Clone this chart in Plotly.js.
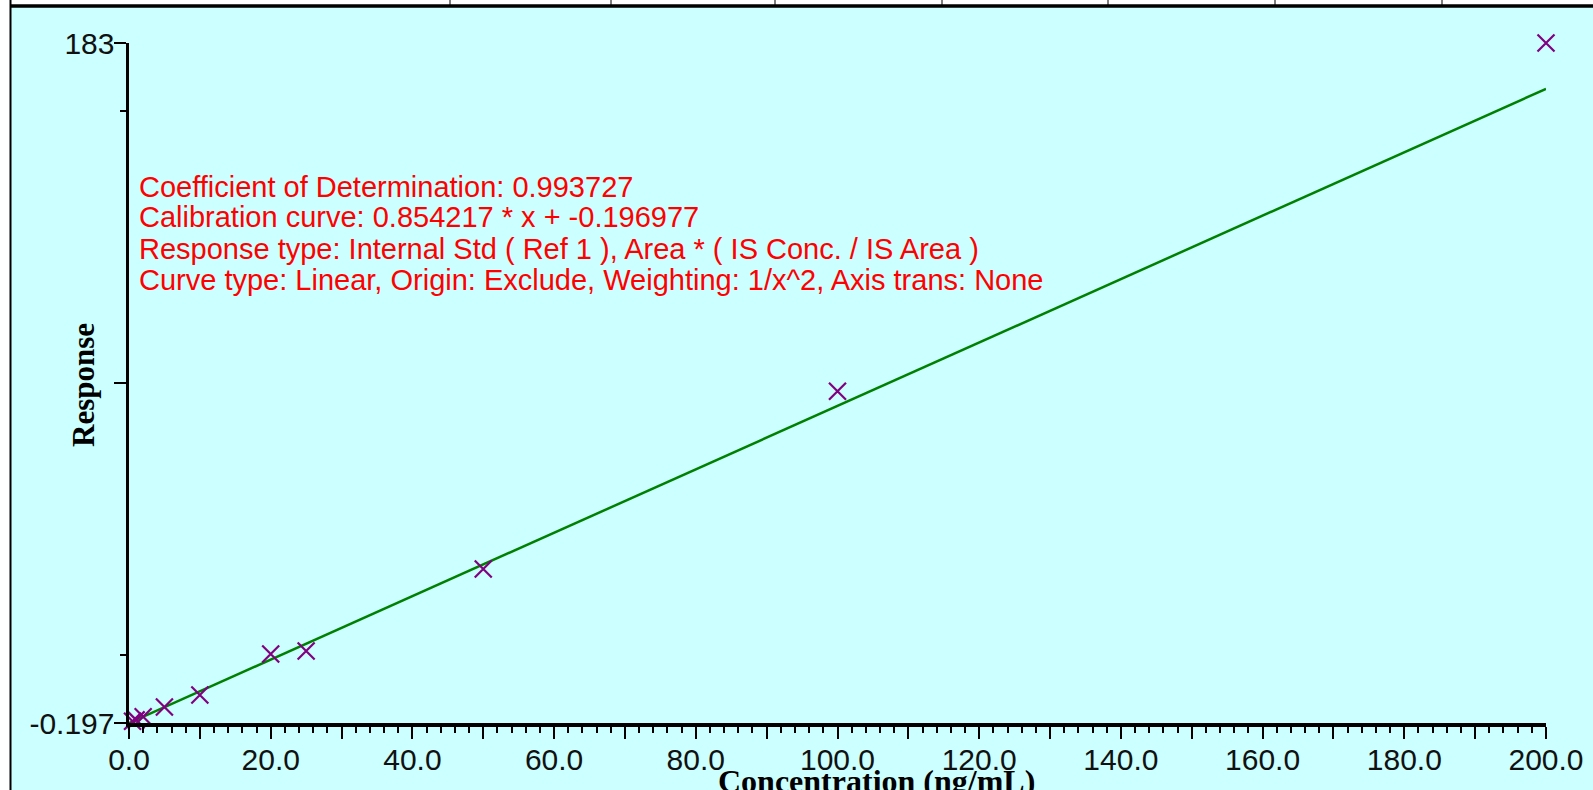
<!DOCTYPE html>
<html>
<head>
<meta charset="utf-8">
<script src="https://cdn.plot.ly/plotly-3.0.1.min.js"></script>
<style>html,body{margin:0;padding:0;background:#fff;} #chart{width:1593px;height:790px;}</style>
</head>
<body>
<div id="chart"></div>
<script>
// Calibration standards (concentration ng/mL) and measured responses
const concentrations = [0.5, 1, 2, 5, 10, 20, 25, 50, 100, 200];
const responses = [0.25, 0.65, 1.5, 4.1, 7.35, 18.4, 19.2, 41.3, 89.2, 183.0];
// Calibration line endpoints
const lineX = [0, 200];
const lineY = [-0.197, 170.65];
// Axis ticks
const xTickVals = [0,10,20,30,40,50,60,70,80,90,100,110,120,130,140,150,160,170,180,190,200];
const xTickText = ['0.0','','20.0','','40.0','','60.0','','80.0','','100.0','','120.0','','140.0','','160.0','','180.0','','200.0'];
const yTickVals = [-0.197, 91.4, 183];
const yTickText = ['-0.197', '', '183'];
const yMinorVals = [18.12, 164.68];
const infoLines = [
  'Coefficient of Determination: 0.993727',
  'Calibration curve: 0.854217 * x + -0.196977',
  'Response type: Internal Std ( Ref 1 ), Area * ( IS Conc. / IS Area )',
  'Curve type: Linear, Origin: Exclude, Weighting: 1/x^2, Axis trans: None'
];

const L = 129, R = 1546, T = 43, B = 723, W = 1593, H = 790;
const px = X => (X - L) / (R - L);
const py = Y => (B - Y) / (B - T);

const sans = 'Arial, "Liberation Sans", sans-serif';
const serif = '"Times New Roman", "Liberation Serif", serif';

const traces = [
  {x: lineX, y: lineY, type: 'scatter', mode: 'lines',
   line: {color: '#008000', width: 2.5}, hoverinfo: 'skip', cliponaxis: false},
  {x: concentrations, y: responses, type: 'scatter', mode: 'markers',
   marker: {symbol: 'x-thin-open', size: 17, color: '#800080', line: {color: '#800080', width: 2.2}},
   hoverinfo: 'skip', cliponaxis: false}
];

const infoY = [187, 217, 249, 280];
const annotations = infoLines.map((t, i) => ({
  text: t, xref: 'paper', yref: 'paper', x: px(137), y: py(infoY[i]),
  xanchor: 'left', yanchor: 'middle', showarrow: false,
  font: {family: sans, size: 29, color: '#FF0000'}
}));
annotations.push({
  text: '<b>Response</b>', xref: 'paper', yref: 'paper', x: px(83), y: py(385),
  xanchor: 'center', yanchor: 'middle', textangle: -90, showarrow: false,
  font: {family: serif, size: 31, color: '#000'}
});
annotations.push({
  text: '<b>Concentration (ng/mL)</b>', xref: 'paper', yref: 'paper', x: px(876), y: py(761),
  xanchor: 'center', yanchor: 'top', showarrow: false,
  font: {family: serif, size: 32, color: '#000'}
});

const topVerts = [450, 611, 775, 942, 1108, 1275, 1442];
const shapes = [
  {type: 'rect', xref: 'paper', yref: 'paper', x0: px(-5), x1: px(10), y0: py(-5), y1: py(H + 5),
   fillcolor: '#FFFFFF', line: {width: 0}, layer: 'below'},
  {type: 'rect', xref: 'paper', yref: 'paper', x0: px(-5), x1: px(W + 5), y0: py(-5), y1: py(6),
   fillcolor: '#FFFFFF', line: {width: 0}, layer: 'below'},
  {type: 'line', xref: 'paper', yref: 'paper', x0: px(10.5), x1: px(10.5), y0: py(0), y1: py(H),
   line: {color: '#000', width: 2}},
  {type: 'line', xref: 'paper', yref: 'paper', x0: px(10), x1: px(W), y0: py(6), y1: py(6),
   line: {color: '#000', width: 3.5}}
];
topVerts.forEach(v => shapes.push({type: 'line', xref: 'paper', yref: 'paper',
  x0: px(v), x1: px(v), y0: py(0), y1: py(6), line: {color: '#000', width: 1}}));

const layout = {
  width: W, height: H,
  margin: {l: L, r: W - R, t: T, b: H - B, pad: 0},
  paper_bgcolor: '#CCFFFF', plot_bgcolor: '#CCFFFF',
  showlegend: false,
  xaxis: {
    range: [0, 200], showgrid: false, zeroline: false,
    showline: true, linecolor: '#000', linewidth: 3.5,
    tickmode: 'array', tickvals: xTickVals, ticktext: xTickText,
    ticks: 'outside', ticklen: 12, tickwidth: 2, tickcolor: '#000',
    tickfont: {family: sans, size: 30, color: '#111'},
    ticklabelstandoff: -5,
    minor: {tickmode: 'linear', tick0: 0, dtick: 2, ticks: 'outside', ticklen: 6, tickwidth: 2, tickcolor: '#000', showgrid: false},
    fixedrange: true
  },
  yaxis: {
    range: [-0.197, 183], showgrid: false, zeroline: false,
    showline: true, linecolor: '#000', linewidth: 3.5,
    tickmode: 'array', tickvals: yTickVals, ticktext: yTickText,
    ticks: 'outside', ticklen: 12, tickwidth: 2, tickcolor: '#000',
    tickfont: {family: sans, size: 30, color: '#111'},
    ticklabelstandoff: -7,
    minor: {tickmode: 'array', tickvals: yMinorVals, ticks: 'outside', ticklen: 6, tickwidth: 2, tickcolor: '#000', showgrid: false},
    fixedrange: true
  },
  annotations: annotations,
  shapes: shapes
};

Plotly.newPlot('chart', traces, layout, {displayModeBar: false, staticPlot: true});
</script>
</body>
</html>
